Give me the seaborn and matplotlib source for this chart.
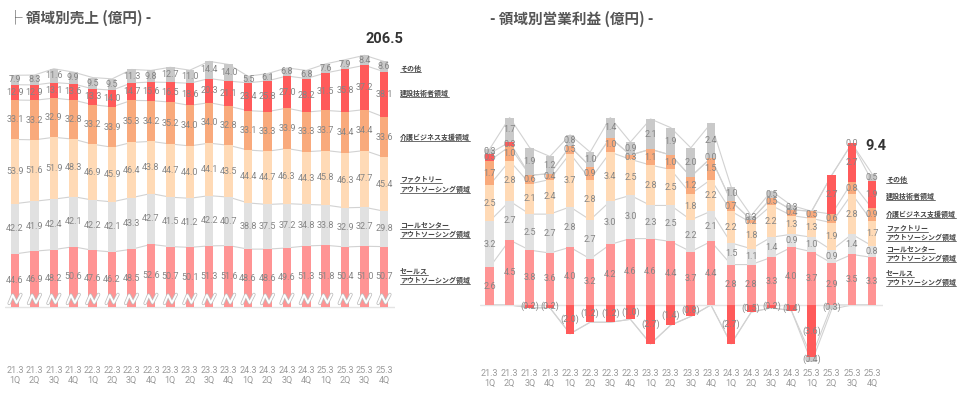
import numpy as np
import matplotlib
matplotlib.use('Agg')
import matplotlib.pyplot as plt
import matplotlib.patheffects as pe
from matplotlib.lines import Line2D
import seaborn as sns

sns.set_style('white')
plt.rcParams['font.family'] = ['Noto Sans CJK JP', 'DejaVu Sans']
NUM_FONT = ['Roboto', 'Noto Sans CJK JP']

quarters = ['21.3\n1Q', '21.3\n2Q', '21.3\n3Q', '21.3\n4Q',
            '22.3\n1Q', '22.3\n2Q', '22.3\n3Q', '22.3\n4Q',
            '23.3\n1Q', '23.3\n2Q', '23.3\n3Q', '23.3\n4Q',
            '24.3\n1Q', '24.3\n2Q', '24.3\n3Q', '24.3\n4Q',
            '25.3\n1Q', '25.3\n2Q', '25.3\n3Q', '25.3\n4Q']

# 売上 (億円)
s_sales = [44.6, 46.9, 48.2, 50.6, 47.6, 46.2, 48.5, 52.6, 50.7, 50.1,
           51.3, 51.6, 48.6, 48.6, 49.6, 51.3, 51.8, 50.4, 51.0, 50.7]
s_call = [42.2, 41.9, 42.4, 42.1, 42.2, 42.1, 43.3, 42.7, 41.5, 41.2,
          42.2, 40.7, 38.8, 37.5, 37.2, 34.8, 33.8, 32.9, 32.7, 29.8]
s_factory = [53.9, 51.6, 51.9, 48.3, 46.9, 45.9, 46.4, 43.8, 44.7, 44.0,
             44.1, 43.5, 44.4, 44.7, 46.3, 44.3, 45.8, 46.3, 47.7, 45.4]
s_care = [33.1, 33.2, 32.9, 32.8, 33.2, 33.9, 35.3, 34.2, 35.2, 34.0,
          34.0, 32.8, 33.1, 33.3, 33.9, 33.3, 33.7, 34.4, 34.4, 33.6]
s_const = [12.9, 12.9, 13.1, 13.6, 13.3, 14.0, 14.7, 15.6, 16.5, 18.6,
           20.3, 21.1, 23.4, 25.8, 27.0, 28.2, 31.5, 35.8, 37.2, 38.1]
s_other = [7.9, 8.3, 11.6, 9.9, 9.5, 9.5, 11.3, 9.8, 12.7, 11.0,
           14.4, 14.0, 5.5, 6.1, 6.8, 6.8, 7.6, 7.9, 8.4, 8.6]
s_total_last = 206.5

# 営業利益 (億円)
p_sales = [2.6, 4.5, 3.8, 3.6, 4.0, 3.2, 4.2, 4.6, 4.6, 4.4,
           3.7, 4.4, 2.8, 2.8, 3.3, 4.0, 3.7, 2.9, 3.5, 3.3]
p_call = [3.2, 2.7, 2.5, 2.7, 2.8, 2.7, 3.0, 3.0, 2.3, 2.5,
          2.2, 2.1, 1.5, 1.1, 1.4, 0.9, 1.0, 0.9, 1.4, 0.8]
p_factory = [2.5, 2.8, 2.1, 2.4, 3.7, 2.8, 3.4, 2.5, 2.8, 2.5,
             1.8, 2.2, 2.2, 1.8, 2.2, 1.3, 1.3, 1.9, 2.8, 1.7]
p_care = [1.7, 1.0, 0.6, 0.4, 0.5, 0.9, 1.0, 0.3, 1.1, 1.0,
          1.2, 1.5, 0.7, 0.2, 0.5, 0.4, 0.5, 0.6, 0.8, 0.9]
p_const = [0.5, 0.3, -0.2, -0.2, -2.0, -1.2, -1.2, -1.0, -2.7, -1.4,
           -0.8, 0.0, -2.7, -0.5, -0.2, -0.4, -3.6, 2.7, 2.7, 1.9]
p_other = [0.3, 1.7, 1.9, 1.2, 0.8, 1.0, 1.4, 0.9, 2.1, 1.9,
           2.0, 2.4, 1.0, 0.3, 0.5, 0.3, -0.4, -0.3, 0.0, 0.5]
p_total_last = 9.4

seg_names = ['セールス\nアウトソーシング領域', 'コールセンター\nアウトソーシング領域',
             'ファクトリー\nアウトソーシング領域', '介護ビジネス支援領域',
             '建設技術者領域', 'その他']
seg_colors = ['#ff9494', '#e1e1e1', '#ffdab6', '#f9aa7c', '#ff5a5a', '#c9c9c9']

W, H = 958, 393
fig = plt.figure(figsize=(W / 100, H / 100), dpi=100)


def px_axes(x0, x1, y_top, y_bot):
    return fig.add_axes([x0 / W, 1 - y_bot / H, (x1 - x0) / W, (y_bot - y_top) / H])


def fmt(v):
    return f'({abs(v):.1f})' if v < 0 else f'{v:.1f}'


def draw_stack(ax, segs, width):
    """segs: list of (values, color). positive go up, negative go down."""
    idx = np.arange(len(quarters))
    pos = np.zeros(len(idx))
    neg = np.zeros(len(idx))
    bounds = []
    labels = []
    for vals, col in segs:
        vals = np.asarray(vals, dtype=float)
        bottom = np.where(vals >= 0, pos, neg)
        sns.barplot(x=idx, y=vals, bottom=bottom, color=col, width=width,
                    saturation=1, linewidth=0, errorbar=None, ax=ax, zorder=2)
        for i in idx:
            labels.append((i, bottom[i] + vals[i] / 2, fmt(vals[i])))
        pos = pos + np.clip(vals, 0, None)
        neg = neg + np.clip(vals, None, 0)
        bounds.append(pos.copy())
        if (vals < 0).any():
            bounds.append(neg.copy())
    for b in bounds:
        ax.plot(idx, b, color='#d2d2d2', lw=0.8, zorder=1)
    for i, y, s in labels:
        ax.text(i, y, s, ha='center', va='center', fontsize=6.5, color='#858585',
                family=NUM_FONT, zorder=4)
    return pos


def style_axes(ax, xlim, ylim, pad):
    ax.set_xlim(*xlim)
    ax.set_ylim(*ylim)
    ax.set_xticks(np.arange(len(quarters)))
    ax.set_xticklabels(quarters, fontsize=6.5, color='#9a9a9a', linespacing=1.15,
                       family=NUM_FONT)
    ax.tick_params(axis='x', length=0, pad=pad)
    ax.set_yticks([])
    ax.set_xlabel('')
    ax.set_ylabel('')
    for sp in ax.spines.values():
        sp.set_visible(False)
    ax.axhline(0, color='#e4e4e4', lw=1.0, zorder=1.5)


# ---- 売上 ----
ax1 = px_axes(5, 395, 51, 362)
draw_stack(ax1, list(zip([s_sales, s_call, s_factory, s_care, s_const, s_other], seg_colors)), 0.44)
style_axes(ax1, (-0.515, 19.566), (-46.2, 215), 3)
for i in range(len(quarters)):
    xs = i + np.array([-0.3, -0.12, 0.08, 0.3])
    ax1.plot(xs, [3.0, 10.0, 3.5, 10.5], color='white', lw=1.4, zorder=3,
             solid_joinstyle='round',
             path_effects=[pe.Stroke(linewidth=2.5, foreground='#bdbdbd'), pe.Normal()])
top1 = sum(v[-1] for v in [s_sales, s_call, s_factory, s_care, s_const, s_other])
ax1.annotate(f'{s_total_last:.1f}', (19, top1), xytext=(0, 16.5), textcoords='offset points',
             ha='center', va='center', fontsize=10.5, fontweight='bold', color='#333333',
             family=NUM_FONT)

# ---- 営業利益 ----
ax2 = px_axes(480, 883, 57, 362)
draw_stack(ax2, list(zip([p_sales, p_call, p_factory, p_care, p_const, p_other], seg_colors)), 0.43)
style_axes(ax2, (-0.472, 19.546), (-3.96, 17.2), 5)
top2 = sum(max(v[-1], 0) for v in [p_sales, p_call, p_factory, p_care, p_const, p_other])
ax2.annotate(f'{p_total_last:.1f}', (19, top2), xytext=(3, 20), textcoords='offset points',
             ha='center', va='center', fontsize=10.5, fontweight='bold', color='#333333',
             family=NUM_FONT)

# titles
fig.text(7.5 / W, 1 - 18 / H, '├ 領域別売上 (億円) -', fontsize=10.5, fontweight='bold',
         color='#555555', ha='left', va='center')
fig.text(490 / W, 1 - 19 / H, '- 領域別営業利益 (億円) -', fontsize=10.5, fontweight='bold',
         color='#555555', ha='left', va='center')

# legend labels with underline
legend_left = [(68, 'その他'), (93, '建設技術者領域'), (137, '介護ビジネス支援領域'),
               (179, 'ファクトリー'), (189, 'アウトソーシング領域'),
               (225, 'コールセンター'), (234, 'アウトソーシング領域'),
               (271, 'セールス'), (280, 'アウトソーシング領域')]
legend_right = [(179, 'その他'), (196, '建設技術者領域'), (214, '介護ビジネス支援領域'),
                (228, 'ファクトリー'), (237, 'アウトソーシング領域'),
                (249, 'コールセンター'), (258, 'アウトソーシング領域'),
                (273, 'セールス'), (282, 'アウトソーシング領域')]
texts = []
for x0, items in [(400, legend_left), (886, legend_right)]:
    for y, s in items:
        t = fig.text(x0 / W, 1 - y / H, s, fontsize=5.0, fontweight='bold',
                     color='#444444', ha='left', va='center')
        texts.append(t)

renderer = fig.canvas.get_renderer()
for t in texts:
    bb = t.get_window_extent(renderer)
    yl = (bb.y0 - 0.5) / H
    fig.add_artist(Line2D([bb.x0 / W, bb.x1 / W], [yl, yl], color='#555555', lw=0.6))

fig.savefig('out.png', dpi=100)
